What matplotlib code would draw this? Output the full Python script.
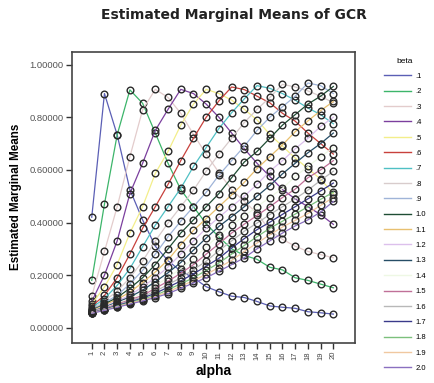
import matplotlib
matplotlib.use("Agg")
import matplotlib.pyplot as plt

plt.rcParams['font.family'] = ['Liberation Sans', 'DejaVu Sans']

alpha = list(range(1, 21))
beta_labels = ['.1', '.2', '.3', '.4', '.5', '.6', '.7', '.8', '.9', '1.0',
               '1.1', '1.2', '1.3', '1.4', '1.5', '1.6', '1.7', '1.8', '1.9', '2.0']

# estimated marginal means of GCR, one list per beta level (alpha = 1..20)
gcr_b01 = [0.42, 0.89, 0.733, 0.525, 0.41, 0.31, 0.255, 0.215, 0.19, 0.156,
           0.137, 0.12, 0.115, 0.10, 0.083, 0.078, 0.074, 0.061, 0.057, 0.052]
gcr_b02 = [0.18, 0.47, 0.733, 0.904, 0.853, 0.74, 0.625, 0.525, 0.46, 0.395,
           0.345, 0.30, 0.275, 0.26, 0.23, 0.22, 0.19, 0.18, 0.166, 0.152]
gcr_b03 = [0.12, 0.29, 0.46, 0.65, 0.828, 0.906, 0.875, 0.815, 0.735, 0.66,
           0.59, 0.525, 0.48, 0.435, 0.37, 0.336, 0.31, 0.29, 0.278, 0.266]
gcr_b04 = [0.10, 0.20, 0.33, 0.51, 0.625, 0.75, 0.83, 0.906, 0.89, 0.85,
           0.80, 0.74, 0.68, 0.625, 0.575, 0.525, 0.49, 0.46, 0.43, 0.393]
gcr_b05 = [0.09, 0.155, 0.24, 0.36, 0.46, 0.587, 0.67, 0.77, 0.85, 0.906,
           0.89, 0.865, 0.83, 0.79, 0.735, 0.69, 0.645, 0.605, 0.565, 0.51]
gcr_b06 = [0.082, 0.123, 0.19, 0.28, 0.378, 0.46, 0.545, 0.635, 0.72, 0.80,
           0.862, 0.915, 0.905, 0.88, 0.855, 0.815, 0.785, 0.74, 0.70, 0.66]
gcr_b07 = [0.076, 0.111, 0.161, 0.225, 0.308, 0.39, 0.46, 0.53, 0.613, 0.685,
           0.757, 0.817, 0.87, 0.92, 0.91, 0.89, 0.865, 0.835, 0.81, 0.775]
gcr_b08 = [0.072, 0.102, 0.139, 0.19, 0.253, 0.33, 0.398, 0.46, 0.523, 0.595,
           0.66, 0.72, 0.78, 0.83, 0.875, 0.925, 0.915, 0.90, 0.88, 0.855]
gcr_b09 = [0.068, 0.095, 0.123, 0.167, 0.218, 0.28, 0.346, 0.405, 0.46, 0.515,
           0.58, 0.635, 0.69, 0.75, 0.80, 0.84, 0.88, 0.93, 0.92, 0.89]
gcr_b10 = [0.066, 0.09, 0.115, 0.15, 0.19, 0.24, 0.30, 0.36, 0.41, 0.46,
           0.51, 0.57, 0.63, 0.67, 0.72, 0.77, 0.81, 0.85, 0.88, 0.917]
gcr_b11 = [0.064, 0.086, 0.108, 0.135, 0.172, 0.212, 0.258, 0.316, 0.37, 0.415,
           0.46, 0.505, 0.553, 0.605, 0.65, 0.695, 0.745, 0.786, 0.825, 0.86]
gcr_b12 = [0.062, 0.082, 0.102, 0.123, 0.156, 0.19, 0.231, 0.28, 0.33, 0.378,
           0.42, 0.46, 0.50, 0.545, 0.595, 0.635, 0.68, 0.72, 0.765, 0.80]
gcr_b13 = [0.061, 0.079, 0.097, 0.117, 0.143, 0.175, 0.209, 0.248, 0.295, 0.341,
           0.385, 0.422, 0.46, 0.50, 0.54, 0.585, 0.625, 0.665, 0.70, 0.74]
gcr_b14 = [0.06, 0.076, 0.093, 0.111, 0.132, 0.161, 0.19, 0.225, 0.262, 0.308,
           0.351, 0.39, 0.425, 0.46, 0.495, 0.53, 0.575, 0.613, 0.65, 0.685]
gcr_b15 = [0.059, 0.074, 0.09, 0.106, 0.123, 0.15, 0.177, 0.207, 0.24, 0.28,
           0.319, 0.36, 0.394, 0.427, 0.46, 0.495, 0.527, 0.57, 0.60, 0.635]
gcr_b16 = [0.058, 0.072, 0.087, 0.102, 0.118, 0.139, 0.164, 0.19, 0.221, 0.253,
           0.293, 0.33, 0.367, 0.398, 0.43, 0.46, 0.49, 0.523, 0.56, 0.595]
gcr_b17 = [0.057, 0.07, 0.085, 0.098, 0.113, 0.131, 0.154, 0.178, 0.205, 0.234,
           0.264, 0.303, 0.339, 0.373, 0.401, 0.431, 0.46, 0.49, 0.52, 0.55]
gcr_b18 = [0.056, 0.068, 0.082, 0.095, 0.109, 0.123, 0.145, 0.167, 0.19, 0.218,
           0.246, 0.28, 0.313, 0.346, 0.378, 0.405, 0.432, 0.46, 0.488, 0.515]
gcr_b19 = [0.056, 0.067, 0.08, 0.093, 0.105, 0.119, 0.137, 0.158, 0.179, 0.203,
           0.229, 0.256, 0.29, 0.322, 0.353, 0.383, 0.408, 0.434, 0.465, 0.495]
gcr_b20 = [0.055, 0.066, 0.078, 0.09, 0.102, 0.115, 0.13, 0.15, 0.17, 0.19,
           0.215, 0.24, 0.266, 0.30, 0.33, 0.36, 0.387, 0.41, 0.44, 0.48]

series = [gcr_b01, gcr_b02, gcr_b03, gcr_b04, gcr_b05, gcr_b06, gcr_b07,
          gcr_b08, gcr_b09, gcr_b10, gcr_b11, gcr_b12, gcr_b13, gcr_b14,
          gcr_b15, gcr_b16, gcr_b17, gcr_b18, gcr_b19, gcr_b20]

colors = ['#5b5fb5', '#3cb56a', '#e3cccc', '#7b3f9e', '#f3ee8a', '#c8413c',
          '#4fc0c4', '#d8cccc', '#9fb4d8', '#1f4d34', '#e8c070', '#dcc0ec',
          '#264d66', '#eef8e4', '#c07098', '#b8b8b8', '#3a3a8a', '#7cc07c',
          '#f0c8a0', '#8a70c0']

fig = plt.figure(figsize=(4.35, 3.83), dpi=100)
ax = fig.add_axes([0.165, 0.105, 0.651, 0.760])

for vals, col, lab in zip(series, colors, beta_labels):
    ax.plot(alpha, vals, color=col, lw=0.9, label=lab,
            marker='o', markersize=4.8, markerfacecolor='none',
            markeredgecolor='#2a2a2a', markeredgewidth=1.0)

ax.set_xlim(-0.57, 21.7)
ax.set_ylim(-0.057, 1.049)
ax.set_xticks(alpha)
ax.set_xticklabels([str(a) for a in alpha], rotation=90, fontsize=5.5, color='#444444')
yt = [0.0, 0.2, 0.4, 0.6, 0.8, 1.0]
ax.set_yticks(yt)
ax.set_yticklabels(['%.5f' % v for v in yt], fontsize=6.8, color='#555555')
ax.tick_params(direction='out', length=4, width=1, color='#333333', pad=2)
for sp in ax.spines.values():
    sp.set_color('#444444')
    sp.set_linewidth(1.2)

ax.set_xlabel('alpha', fontsize=10, fontweight='bold', labelpad=3)
ax.set_ylabel('Estimated Marginal Means', fontsize=8.4, fontweight='bold', labelpad=5)
fig.text(0.538, 0.96, 'Estimated Marginal Means of GCR', ha='center', va='center',
         fontsize=10, fontweight='bold', color='#222222', family='DejaVu Sans')

handles, labels = ax.get_legend_handles_labels()
leg = ax.legend(handles, labels, title='beta', loc='upper left',
                bbox_to_anchor=(1.09, 0.99), frameon=False, fontsize=5.5,
                title_fontsize=6, handlelength=3.6, handletextpad=0.6,
                labelspacing=1.05, borderaxespad=0)
for line in leg.get_lines():
    line.set_marker('')
    line.set_linewidth(1.0)

fig.savefig('out.png', dpi=100)
